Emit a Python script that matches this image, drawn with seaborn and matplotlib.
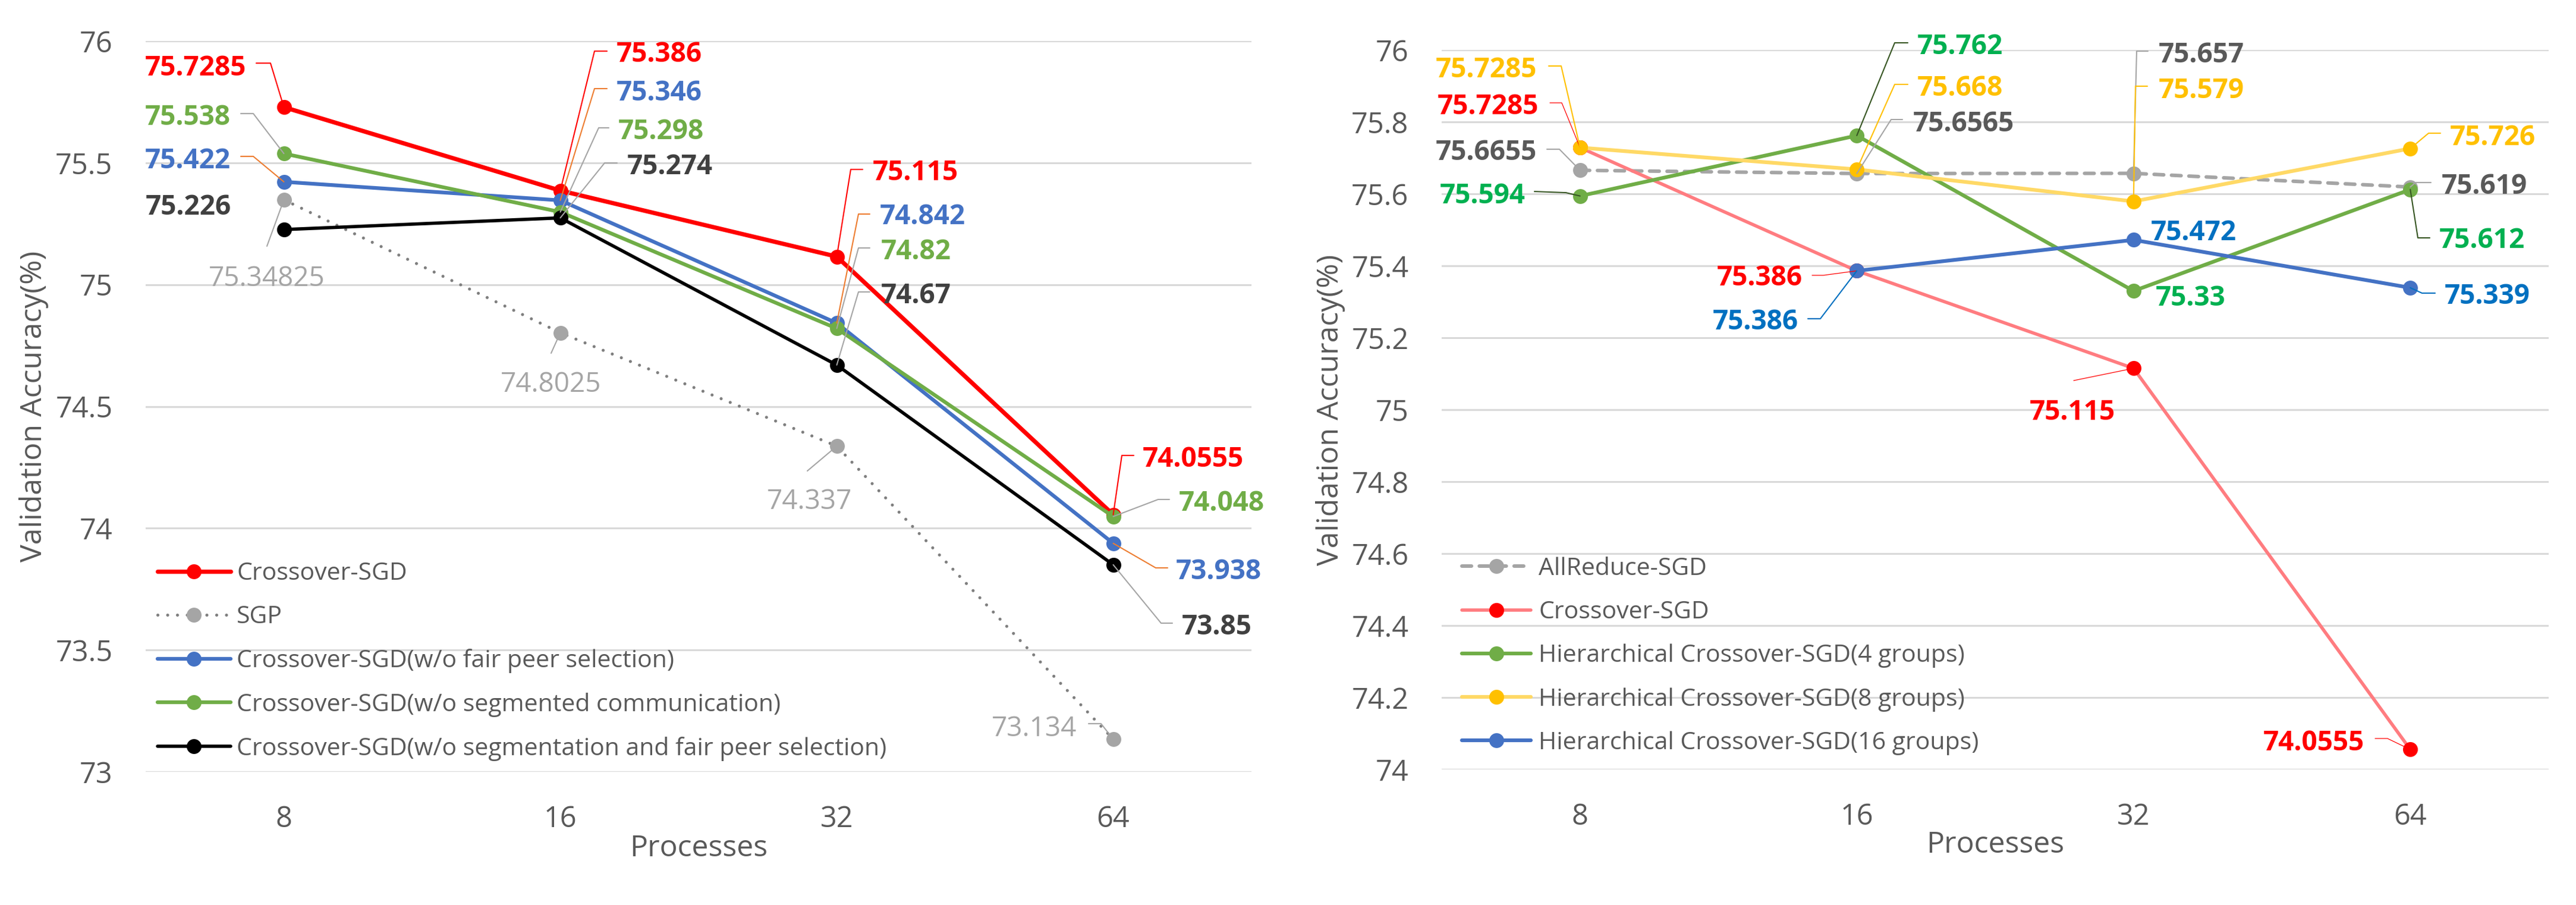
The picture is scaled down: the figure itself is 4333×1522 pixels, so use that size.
import numpy as np
import pandas as pd
import matplotlib
matplotlib.use("Agg")
import matplotlib.pyplot as plt
import seaborn as sns
from matplotlib.lines import Line2D

# ---------------- data ----------------
processes = ["8", "16", "32", "64"]

# left chart
crossover_sgd = [75.7285, 75.386, 75.115, 74.0555]
sgp = [75.34825, 74.8025, 74.337, 73.134]
wo_fair_peer = [75.422, 75.346, 74.842, 73.938]
wo_segmented = [75.538, 75.298, 74.82, 74.048]
wo_seg_and_fair = [75.226, 75.274, 74.67, 73.85]

# right chart
allreduce_sgd = [75.6655, 75.6565, 75.657, 75.619]
crossover_sgd_r = [75.7285, 75.386, 75.115, 74.0555]
hier_4 = [75.594, 75.762, 75.33, 75.612]
hier_8 = [75.7285, 75.668, 75.579, 75.726]
hier_16_procs = ["16", "32", "64"]
hier_16 = [75.386, 75.472, 75.339]

left_names = ["Crossover-SGD", "SGP", "Crossover-SGD(w/o fair peer selection)",
              "Crossover-SGD(w/o segmented communication)",
              "Crossover-SGD(w/o segmentation and fair peer selection)"]
right_names = ["AllReduce-SGD", "Crossover-SGD", "Hierarchical Crossover-SGD(4 groups)",
               "Hierarchical Crossover-SGD(8 groups)", "Hierarchical Crossover-SGD(16 groups)"]

# ---------------- label layout (pixel offsets from the point, image y down) ----------------
L_RED = [("right", -63.5, -70, [(-22.5, -74), (-46.5, -74)]),
         ("left", 94.5, -232.5, [(57.5, -234.5), (78.5, -234.5)]),
         ("left", 60.5, -144.6, [(23.5, -146.6), (43.5, -146.6)]),
         ("left", 49.5, -96.6, [(14.5, -99.6), (34.5, -99.6)])]
L_SGP = [("center", -29, 129, [(-28.5, 78)]),
         ("center", -15.5, 83.4, [(-15.5, 34.4)]),
         ("center", -46, 89.7, [(-49.5, 41.7)]),
         ("right", -61.5, -21.1, [(-20.5, -26.1), (-41.5, -26.1)])]
L_BLUE = [("right", -89.5, -38.8, [(-51.5, -42.8), (-72.5, -42.8)]),
          ("left", 94.5, -183.9, [(57.5, -187.9), (78.5, -187.9)]),
          ("left", 72.5, -182.4, [(36.5, -183.4), (55.5, -183.4)]),
          ("left", 105.5, 44.3, [(71.5, 41.3), (91.5, 41.3)])]
L_GREEN = [("right", -89.5, -64.3, [(-51.5, -67.3), (-72.5, -67.3)]),
           ("left", 97.5, -138.6, [(64.5, -141.6), (81.5, -141.6)]),
           ("left", 74.5, -132.4, [(36.5, -135.4), (55.5, -135.4)]),
           ("left", 110.5, -25.7, [(75.5, -28.7), (94.5, -28.7)])]
L_BLACK = [("right", -88.5, -41.1, None),
           ("left", 112.5, -89.4, [(74.5, -92.4), (95.5, -92.4)]),
           ("left", 74.5, -119.9, [(36.5, -122.9), (55.5, -122.9)]),
           ("left", 115.5, 101.2, [(80.5, 98.2), (99.5, 98.2)])]

R_ALL = [("right", -72.75, -33.4, [(-34.75, -35.4), (-55.75, -35.4)]),
         ("left", 94.75, -86.8, [(57.75, -90.8), (76.75, -90.8)]),
         ("left", 42.25, -202.5, [(5.25, -205.5), (24.25, -205.5)]),
         ("left", 52.75, -4.5, [(8.75, -7.5), (34.75, -7.5)])]
R_RED = [("right", -69.75, -72.3, [(-30.75, -75.3), (-50.75, -75.3)]),
         ("right", -91.25, 8.5, [(-56.25, 7.5), (-75.25, 7.5)]),
         ("center", -102.75, 70.6, [(-100.75, 20.6)]),
         ("right", -77.25, -14.4, [(-38.25, -18.4), (-59.25, -18.4)])]
R_H4 = [("right", -91.75, -3.6, [(-23.75, -5.6), (-76.75, -7.6)]),
        ("left", 101.75, -153, [(63.75, -156), (85.75, -156)]),
        ("left", 37.25, 8.6, None),
        ("left", 48.75, 82.3, [(12.75, 81.3), (32.75, 81.3)])]
R_H8 = [("right", -72.75, -134.3, [(-31.75, -137.3), (-52.75, -137.3)]),
        ("left", 101.75, -139.9, [(63.75, -142.9), (85.75, -142.9)]),
        ("left", 42.25, -189.7, [(3.25, -193.7), (23.25, -193.7)]),
        ("left", 66.75, -21.8, [(30.75, -25.8), (50.75, -25.8)])]
R_H16 = [("right", -98.25, 82.5, [(-61.25, 80.5), (-82.25, 80.5)]),
         ("left", 29.25, -15.4, None),
         ("left", 57.75, 11.1, [(19.75, 9.1), (41.75, 9.1)])]

# ---------------- style ----------------
sns.set_theme(style="white")
plt.rcParams["font.family"] = ["Open Sans", "DejaVu Sans"]

W, H = 4333, 1522
DPI = 100
fig = plt.figure(figsize=(W / DPI, H / DPI), dpi=DPI)

TXT = "#595959"
GRID = "#D9D9D9"
LABEL_FS = 33
CAP_HALF = 16.4
MS = 18


def add_axes_px(x0, top, x1, bottom):
    return fig.add_axes([x0 / W, 1 - bottom / H, (x1 - x0) / W, (bottom - top) / H])


def draw(ax, cats, vals, name, line_color, marker_color, lw, **kw):
    d = pd.DataFrame({"Processes": cats, "acc": vals})
    d["pos"] = [processes.index(c) for c in d["Processes"]]
    sns.lineplot(data=d, x="pos", y="acc", ax=ax, color=line_color, linewidth=lw,
                 marker="o", markersize=MS, markerfacecolor=marker_color,
                 markeredgecolor=marker_color, markeredgewidth=0, label=name,
                 legend=False, **kw)


def add_labels(ax, cats, vals, layout, color, leader_color, leader_lw, weight="bold"):
    for c, v, (ha, dx, dy, leader) in zip(cats, vals, layout):
        pos = processes.index(c)
        ax.annotate(str(v), xy=(pos, v), xytext=(dx, -(dy + CAP_HALF)),
                    textcoords="offset pixels", ha=ha, va="baseline",
                    fontsize=LABEL_FS, fontweight=weight, color=color, zorder=10)
        if leader:
            p = ax.transData.transform((pos, v))
            verts = [p] + [p + np.array([ox, -oy]) for ox, oy in leader]
            verts = fig.transFigure.inverted().transform(np.array(verts))
            fig.add_artist(Line2D(verts[:, 0], verts[:, 1], transform=fig.transFigure,
                                  color=leader_color, linewidth=leader_lw, zorder=9))


def style_axes(ax, yticks, ylim, ylabel_x):
    ax.set_xlim(-0.5, 3.5)
    ax.set_ylim(*ylim)
    ax.set_yticks(yticks)
    ax.set_yticklabels([f"{t:g}" for t in yticks])
    ax.set_xticks(range(len(processes)))
    ax.set_xticklabels(processes)
    for s in ax.spines.values():
        s.set_visible(False)
    ax.grid(axis="y", color=GRID, linewidth=2.2)
    ax.grid(axis="x", visible=False)
    ax.set_axisbelow(True)
    ax.tick_params(axis="both", length=0, labelsize=35, colors=TXT)
    ax.tick_params(axis="y", pad=40)
    ax.tick_params(axis="x", pad=40)


def axis_titles(ax, ylabel_x):
    ax.set_xlabel("Processes", fontsize=36, color=TXT)
    ax.xaxis.set_label_coords(0.5, -0.105)
    ax.xaxis.label.set_va("center")
    ax.set_ylabel("Validation Accuracy(%)", fontsize=36, color=TXT)
    ax.yaxis.set_label_coords(ylabel_x, 0.5)
    ax.yaxis.label.set_va("center")


# ---------------- left chart ----------------
axL = add_axes_px(245, 69, 2105, 1298)
style_axes(axL, np.arange(73, 76.01, 0.5), (73, 76), -0.101)

draw(axL, processes, crossover_sgd, left_names[0], "#FF0000", "#FF0000", 5.2)
draw(axL, processes, sgp, left_names[1], "#7F7F7F", "#A5A5A5", 3.7,
     linestyle=(0, (0.01, 3.2)), dash_capstyle="round")
draw(axL, processes, wo_fair_peer, left_names[2], "#4472C4", "#4472C4", 4.5)
draw(axL, processes, wo_segmented, left_names[3], "#70AD47", "#70AD47", 4.5)
draw(axL, processes, wo_seg_and_fair, left_names[4], "#000000", "#000000", 4.0)
axis_titles(axL, -0.101)

add_labels(axL, processes, crossover_sgd, L_RED, "#FF0000", "#FF0000", 1.5)
add_labels(axL, processes, sgp, L_SGP, "#A5A5A5", "#A5A5A5", 1.5, weight="normal")
add_labels(axL, processes, wo_fair_peer, L_BLUE, "#4472C4", "#ED7D31", 1.5)
add_labels(axL, processes, wo_segmented, L_GREEN, "#70AD47", "#A5A5A5", 1.5)
add_labels(axL, processes, wo_seg_and_fair, L_BLACK, "#404040", "#A5A5A5", 1.5)

axL.legend(loc="center left", bbox_to_anchor=(265 / W, 1 - 1112 / H),
           bbox_transform=fig.transFigure, frameon=False, fontsize=29.5,
           labelcolor=TXT, handlelength=3.0, handletextpad=0.25,
           labelspacing=0.8, borderpad=0, borderaxespad=0)

# ---------------- right chart ----------------
axR = add_axes_px(2425, 84, 4287, 1294)
style_axes(axR, np.round(np.arange(74, 76.01, 0.2), 1), (74, 76), -0.1004)

draw(axR, processes, allreduce_sgd, right_names[0], "#A5A5A5", "#A5A5A5", 4.3,
     linestyle=(0, (2.7, 2.2)), dash_capstyle="round")
draw(axR, processes, crossover_sgd_r, right_names[1], "#FF7C80", "#FF0000", 4)
draw(axR, processes, hier_4, right_names[2], "#70AD47", "#70AD47", 4.5)
draw(axR, processes, hier_8, right_names[3], "#FFD966", "#FFC000", 4.5)
draw(axR, hier_16_procs, hier_16, right_names[4], "#4472C4", "#4472C4", 4.5)
axis_titles(axR, -0.1004)

add_labels(axR, processes, allreduce_sgd, R_ALL, "#595959", "#A5A5A5", 1.5)
add_labels(axR, processes, crossover_sgd_r, R_RED, "#FF0000", "#FF0000", 0.9)
add_labels(axR, processes, hier_4, R_H4, "#00B050", "#375623", 1.5)
add_labels(axR, processes, hier_8, R_H8, "#FFC000", "#FFC000", 1.5)
add_labels(axR, hier_16_procs, hier_16, R_H16, "#0070C0", "#0070C0", 1.5)

axR.legend(loc="center left", bbox_to_anchor=(2459 / W, 1 - 1103 / H),
           bbox_transform=fig.transFigure, frameon=False, fontsize=29.5,
           labelcolor=TXT, handlelength=2.83, handletextpad=0.32,
           labelspacing=0.8, borderpad=0, borderaxespad=0)

fig.savefig("out.png", dpi=DPI)
